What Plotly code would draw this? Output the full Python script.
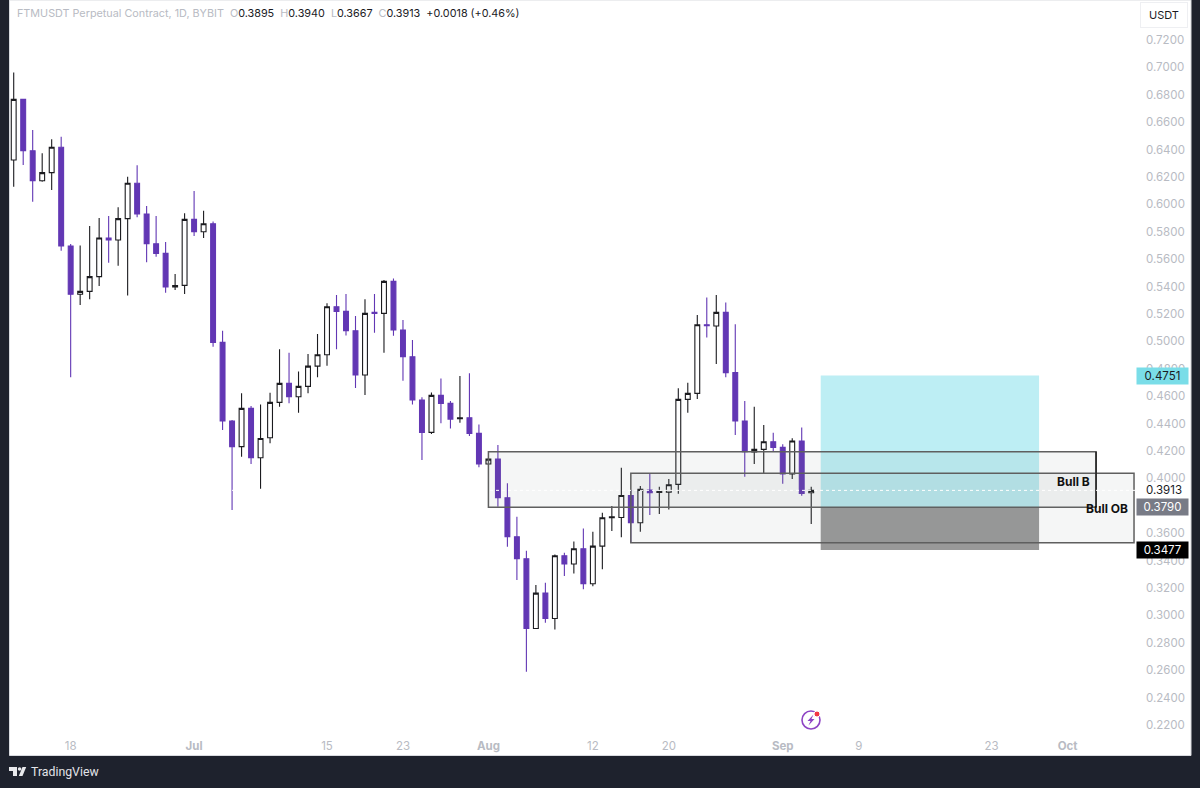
import pandas as pd
import plotly.graph_objects as go

# daily candles, first bar is 12 Jun
first_day = "2024-06-12"
opens = [.6324, .6767, .6392, .6173, .6232, .6417, .5696, .5344, .5365, .5473, .5755, .5740, .5896, .6154, .5930, .5713, .5643,
         .5397, .5409, .5891, .5801, .5859, .4993, .4419, .4232, .4511, .4151, .4297, .4555, .4694, .4596, .4672, .4820, .4903,
         .5253, .5219, .5078, .4755, .5212, .5205, .5438, .5083, .4888, .4572, .4336, .4606, .4548, .4436, .4443, .4329, .4105,
         .4141, .3859, .3574, .3414, .2905, .3163, .2978, .3436, .3375, .3487, .3231, .3506, .3713, .3715, .3876, .3677, .3915,
         .3898, .3900, .3957, .4577, .4621, .5122, .5113, .5212, .4772, .4419, .4193, .4212, .4268, .4227, .4032, .4273, .3895]
highs = [.6962, .6767, .6543, .6373, .6475, .6494, .5711, .5701, .5842, .5901, .5915, .5979, .6202, .6285, .5988, .5915, .5726,
         .5492, .5935, .6098, .5954, .5876, .5078, .4426, .4621, .4528, .4540, .4626, .4942, .4918, .4781, .4908, .5054, .5278,
         .5339, .5346, .5185, .5307, .5346, .5448, .5460, .5156, .5010, .4592, .4628, .4730, .4565, .4747, .4767, .4394, .4150,
         .4244, .3964, .3720, .3472, .3222, .3239, .3445, .3458, .3540, .3635, .3611, .3750, .3798, .4078, .3915, .3944, .4037,
         .3939, .3995, .4658, .4699, .5193, .5320, .5339, .5285, .5125, .4565, .4524, .4390, .4334, .4249, .4293, .4371, .3940]
lows = [.6129, .6288, .6020, .6166, .6105, .5662, .4738, .5266, .5307, .5404, .5575, .5553, .5336, .5906, .5577, .5618, .5356,
        .5375, .5346, .5769, .5755, .4962, .4353, .3769, .4159, .4105, .3925, .4256, .4523, .4548, .4480, .4621, .4738, .4823,
        .4942, .5044, .4660, .4609, .5064, .4918, .5042, .4713, .4540, .4134, .4324, .4402, .4365, .4407, .4309, .4081, .4100,
        .3793, .3501, .3258, .2589, .2905, .2947, .2898, .3287, .3307, .3192, .3214, .3338, .3616, .3570, .3531, .3611, .3733,
        .3740, .3774, .3889, .4480, .4580, .5028, .4835, .4738, .4317, .4013, .4105, .4035, .4195, .3962, .3996, .3874, .3667]
closes = [.6767, .6392, .6173, .6232, .6417, .5696, .5344, .5365, .5473, .5755, .5740, .5896, .6154, .5930, .5713, .5643, .5397,
          .5407, .5891, .5801, .5859, .4993, .4419, .4232, .4511, .4151, .4292, .4555, .4694, .4596, .4672, .4820, .4903, .5253,
          .5219, .5078, .4755, .5205, .5205, .5438, .5083, .4888, .4572, .4336, .4606, .4548, .4433, .4443, .4329, .4105, .4141,
          .3859, .3574, .3414, .2905, .3163, .2978, .3436, .3375, .3487, .3231, .3506, .3713, .3720, .3876, .3677, .3920, .3896,
          .3905, .3954, .4577, .4621, .5122, .5115, .5212, .4772, .4419, .4195, .4212, .4268, .4227, .4032, .4273, .3891, .3913]

days = pd.date_range(first_day, periods=len(opens), freq="D")

# 0.38 sits behind the entry tag in the reference, so it is left out
price_ticks = [0.22, 0.24, 0.26, 0.28, 0.30, 0.32, 0.34, 0.36, 0.40, 0.42, 0.44, 0.46, 0.48,
               0.50, 0.52, 0.54, 0.56, 0.58, 0.60, 0.62, 0.64, 0.66, 0.68, 0.70, 0.72]
time_ticks = ["2024-06-18", "2024-07-01", "2024-07-15", "2024-07-23", "2024-08-01", "2024-08-12",
              "2024-08-20", "2024-09-01", "2024-09-09", "2024-09-23", "2024-10-01"]
time_labels = ["18", "<b>Jul</b>", "15", "23", "<b>Aug</b>", "12", "20", "<b>Sep</b>", "9", "23", "<b>Oct</b>"]

# levels of the drawings
target_price = 0.4751
entry_price = 0.3790
stop_price = 0.3477
last_price = 0.3913
bull_b = ["2024-08-01", "2024-10-04", 0.3790, 0.4195]
bull_ob = ["2024-08-16", "2024-10-08", 0.3531, 0.4037]
position = ["2024-09-05", "2024-09-28"]

W, H = 1200, 788
PURPLE = "#6237b4"
DARK = "#1e222d"
GREY_TXT = "#b8bbc3"
BOX_LINE = "#5f5f5f"


def px(x):
    return x / W


def py(y):
    return 1 - y / H


def path(points):
    return "M " + " L ".join(f"{px(a):.5f},{py(b):.5f}" for a, b in points) + " Z"


fig = go.Figure(go.Candlestick(
    x=days, open=opens, high=highs, low=lows, close=closes,
    whiskerwidth=0,
    increasing=dict(fillcolor="#ffffff", line=dict(color="#1b1b1f", width=1.1)),
    decreasing=dict(fillcolor=PURPLE, line=dict(color=PURPLE, width=1.1)),
    showlegend=False,
))

# white chart panel on the dark frame
fig.add_shape(type="rect", xref="paper", yref="paper", x0=px(9.5), x1=px(1191), y0=py(755.5), y1=1,
              fillcolor="#ffffff", line=dict(color="#d9dbe0", width=1), layer="below")

# long position tool
fig.add_shape(type="rect", x0=position[0], x1=position[1], y0=entry_price, y1=target_price,
              fillcolor="rgba(0,188,212,0.26)", line_width=0, layer="above")
fig.add_shape(type="rect", x0=position[0], x1=position[1], y0=stop_price, y1=entry_price,
              fillcolor="rgba(0,0,0,0.40)", line_width=0, layer="above")

# zones
for z in (bull_b, bull_ob):
    fig.add_shape(type="rect", x0=z[0], x1=z[1], y0=z[2], y1=z[3],
                  fillcolor="rgba(120,123,134,0.07)", line=dict(color=BOX_LINE, width=1.5), layer="above")
fig.add_shape(type="line", x0=bull_b[1], x1=bull_b[1], y0=bull_b[2], y1=bull_b[3],
              line=dict(color="#111111", width=1.3), layer="above")

# last price line
fig.add_shape(type="line", xref="paper", x0=px(10), x1=px(1136), y0=last_price, y1=last_price,
              line=dict(color="#ffffff", width=1, dash="dot"), layer="above")

# tradingview mark
for pts in ([(9, 767), (17, 767), (17, 776), (13, 776), (13, 771), (9, 771)],
            [(22.5, 767), (26.2, 767), (22.5, 776), (18.8, 776)]):
    fig.add_shape(type="path", xref="paper", yref="paper", path=path(pts), fillcolor="#e8e9ec", line_width=0)
fig.add_shape(type="circle", xref="paper", yref="paper", x0=px(17.8), x1=px(21.4), y0=py(770.8), y1=py(767.2),
              fillcolor="#e8e9ec", line_width=0)

# bolt icon
fig.add_shape(type="circle", xref="paper", yref="paper", x0=px(802), x1=px(820), y0=py(729), y1=py(711),
              fillcolor="#ffffff", line=dict(color="#8e44c4", width=1.6))
fig.add_shape(type="path", xref="paper", yref="paper",
              path=path([(813.5, 714.5), (807.5, 721), (810.5, 721), (808.5, 725.5), (814.5, 719), (811.5, 719)]),
              fillcolor="#8e44c4", line_width=0)
fig.add_shape(type="circle", xref="paper", yref="paper", x0=px(814), x1=px(820), y0=py(717), y1=py(711),
              fillcolor="#f23645", line=dict(color="#ffffff", width=1))

legend_text = (f'<span style="color:{GREY_TXT}">FTMUSDT Perpetual Contract, 1D, BYBIT</span>'
               f'\u00a0\u00a0<span style="color:{GREY_TXT}">O</span>0.3895'
               f'\u00a0\u00a0<span style="color:{GREY_TXT}">H</span>0.3940'
               f'\u00a0\u00a0<span style="color:{GREY_TXT}">L</span>0.3667'
               f'\u00a0\u00a0<span style="color:{GREY_TXT}">C</span>0.3913'
               '\u00a0\u00a0+0.0018 (+0.46%)')
fig.add_annotation(text=legend_text, xref="paper", yref="paper", x=px(15), y=py(13.5), xanchor="left",
                   yanchor="middle", showarrow=False, font=dict(family="Inter", size=10.8, color="#1b1b1f"))
fig.add_annotation(text="USDT", xref="paper", yref="paper", x=px(1164), y=py(14.5), width=44, height=22,
                   xanchor="center", yanchor="middle", showarrow=False, bgcolor="#ffffff",
                   bordercolor="#eeeff2", borderwidth=1, font=dict(family="Inter", size=11, color="#1b1b1f"))

# price tags on the scale
for level, bg, col in ((target_price, "#7adde8", "#1b1b1f"), (entry_price, "#787b86", "#ffffff"),
                       (stop_price, "#000000", "#ffffff")):
    fig.add_annotation(text=f"{level:.4f}", xref="paper", yref="y", x=px(1162.5), y=level, width=49, height=14,
                       xanchor="center", yanchor="middle", showarrow=False, bgcolor=bg,
                       font=dict(family="Inter", size=11.5, color=col))
fig.add_annotation(text=f"{last_price:.4f}", xref="paper", yref="y", x=px(1164), y=last_price, xanchor="center",
                   yanchor="middle", showarrow=False, font=dict(family="Inter", size=11.5, color="#1b1b1f"))

# zone names
fig.add_annotation(text="<b>Bull B</b>", xref="paper", yref="paper", x=px(1092), y=py(481), xanchor="right",
                   yanchor="middle", showarrow=False, font=dict(family="Inter", size=12, color="#111111"))
fig.add_annotation(text="<b>Bull OB</b>", xref="paper", yref="paper", x=px(1130), y=py(508), xanchor="right",
                   yanchor="middle", showarrow=False, font=dict(family="Inter", size=12, color="#111111"))

fig.add_annotation(text="TradingView", xref="paper", yref="paper", x=px(29), y=py(772), xanchor="left",
                   yanchor="middle", showarrow=False, font=dict(family="Roboto", size=12.3, color="#e3e4e8"))

fig.update_layout(
    width=W, height=H,
    margin=dict(l=0, r=0, t=0, b=0),
    paper_bgcolor=DARK,
    plot_bgcolor="rgba(0,0,0,0)",
    showlegend=False,
    boxgap=0.27,
    xaxis=dict(
        domain=[px(10), px(1136)],
        type="date",
        range=["2024-06-11 14:38", "2024-10-08 05:00"],
        rangeslider=dict(visible=False),
        showgrid=False, zeroline=False, showline=False,
        tickmode="array", tickvals=time_ticks, ticktext=time_labels,
        ticks="", ticklabelstandoff=4,
        tickfont=dict(family="Inter", size=11.5, color=GREY_TXT),
    ),
    yaxis=dict(
        domain=[py(733), 1],
        side="right",
        range=[0.2142, 0.7492],
        showgrid=False, zeroline=False, showline=False,
        tickmode="array", tickvals=price_ticks, tickformat=".4f",
        ticks="", ticklabelstandoff=9,
        tickfont=dict(family="Inter", size=11.5, color=GREY_TXT),
    ),
)

# drop the page's default body margin so the frame fills the window
fig.write_html("out.html", config={"displayModeBar": False}, post_script="document.body.style.margin = '0';")
